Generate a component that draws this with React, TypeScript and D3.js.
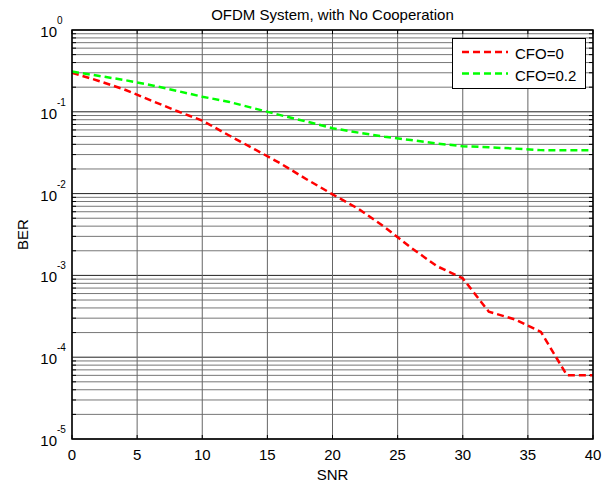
import React from "react";
import * as d3 from "d3";

const snr = [0, 2, 4, 6, 8, 10, 12, 14, 16, 18, 20, 22, 24, 26, 28, 30, 32, 34, 36, 38, 40];
const berCfo0 = [
  0.3, 0.24, 0.188, 0.139, 0.103, 0.078, 0.052, 0.035, 0.0234, 0.015, 0.0098,
  0.0065, 0.0039, 0.0022, 0.0013, 0.00092, 0.00036, 0.00029, 0.000204, 0.00006, 0.00006,
];
const berCfo02 = [
  0.31, 0.276, 0.245, 0.213, 0.181, 0.153, 0.133, 0.11, 0.091, 0.076, 0.063,
  0.0556, 0.0496, 0.0452, 0.041, 0.038, 0.0368, 0.0355, 0.034, 0.0338, 0.0338,
];
const seriesNames = ["CFO=0", "CFO=0.2"];
const seriesColors = ["#ff0000", "#00ff00"];
const xTicks = [0, 5, 10, 15, 20, 25, 30, 35, 40];
const yExponents = [0, -1, -2, -3, -4, -5];

const width = 610;
const height = 483;
const margin = { top: 30, right: 17, bottom: 44, left: 72 };
const font = "'Liberation Sans', Arial, sans-serif";

export default function App() {
  const x = d3.scaleLinear().domain([0, 40]).range([margin.left, width - margin.right]);
  const y = d3.scaleLog().domain([1e-5, 1]).range([height - margin.bottom, margin.top]);

  const x0 = margin.left;
  const x1 = width - margin.right;
  const y0 = margin.top;
  const y1 = height - margin.bottom;

  // minor values 2..9 in each decade
  const minors: number[] = [];
  for (let e = -5; e < 0; e++) {
    for (let m = 2; m <= 9; m++) minors.push(m * Math.pow(10, e));
  }

  const line = d3
    .line<number>()
    .x((d, i) => x(snr[i]))
    .y((d) => y(d));

  const series = [berCfo0, berCfo02];

  return (
    <svg
      width={width}
      height={height}
      style={{ position: "absolute", left: 0, top: 0, background: "#fff" }}
      fontFamily={font}
    >
      <rect x={0} y={0} width={width} height={height} fill="#fff" />
      {/* grid */}
      {minors.map((v, i) => (
        <line key={"mg" + i} x1={x0} x2={x1} y1={y(v)} y2={y(v)} stroke="#777" strokeWidth={1} />
      ))}
      {yExponents.map((e) => (
        <line key={"Mg" + e} x1={x0} x2={x1} y1={y(Math.pow(10, e))} y2={y(Math.pow(10, e))} stroke="#222" strokeWidth={1} />
      ))}
      {xTicks.map((t) => (
        <line key={"xg" + t} x1={x(t)} x2={x(t)} y1={y0} y2={y1} stroke="#666" strokeWidth={1} />
      ))}
      {/* ticks */}
      {minors.map((v, i) => (
        <g key={"mt" + i} stroke="#000">
          <line x1={x0} x2={x0 + 4} y1={y(v)} y2={y(v)} />
          <line x1={x1} x2={x1 - 4} y1={y(v)} y2={y(v)} />
        </g>
      ))}
      {xTicks.map((t) => (
        <g key={"xt" + t} stroke="#000">
          <line x1={x(t)} x2={x(t)} y1={y1} y2={y1 - 4} />
          <line x1={x(t)} x2={x(t)} y1={y0} y2={y0 + 4} />
        </g>
      ))}
      {/* data */}
      {series.map((s, i) => (
        <path
          key={"s" + i}
          d={line(s) || ""}
          fill="none"
          stroke={seriesColors[i]}
          strokeWidth={2.5}
          strokeDasharray="7,4"
        />
      ))}
      {/* axes box */}
      <rect x={x0} y={y0} width={x1 - x0} height={y1 - y0} fill="none" stroke="#000" strokeWidth={1.5} />
      {/* tick labels */}
      {xTicks.map((t) => (
        <text key={"xl" + t} x={x(t)} y={y1 + 21} textAnchor="middle" fontSize={15}>
          {t}
        </text>
      ))}
      {yExponents.map((e) => (
        <g key={"yl" + e}>
          <text x={57} y={y(Math.pow(10, e)) + 7} textAnchor="end" fontSize={15}>
            10
          </text>
          <text x={57} y={y(Math.pow(10, e)) - 6} fontSize={10}>
            {e === 0 ? "0" : "-" + Math.abs(e)}
          </text>
        </g>
      ))}
      {/* titles */}
      <text x={(x0 + x1) / 2} y={20} textAnchor="middle" fontSize={15}>
        OFDM System, with No Cooperation
      </text>
      <text x={(x0 + x1) / 2} y={480} textAnchor="middle" fontSize={15}>
        SNR
      </text>
      <text transform={`translate(28,${(y0 + y1) / 2}) rotate(-90)`} textAnchor="middle" fontSize={15}>
        BER
      </text>
      {/* legend */}
      <rect x={452.5} y={38.5} width={133} height={50} fill="#fff" stroke="#000" strokeWidth={1} />
      {seriesNames.map((n, i) => (
        <g key={"lg" + i}>
          <line
            x1={462}
            x2={508}
            y1={52 + i * 21.5}
            y2={52 + i * 21.5}
            stroke={seriesColors[i]}
            strokeWidth={2.5}
            strokeDasharray="7,4"
          />
          <text x={515} y={59 + i * 22} fontSize={15}>
            {n}
          </text>
        </g>
      ))}
    </svg>
  );
}
